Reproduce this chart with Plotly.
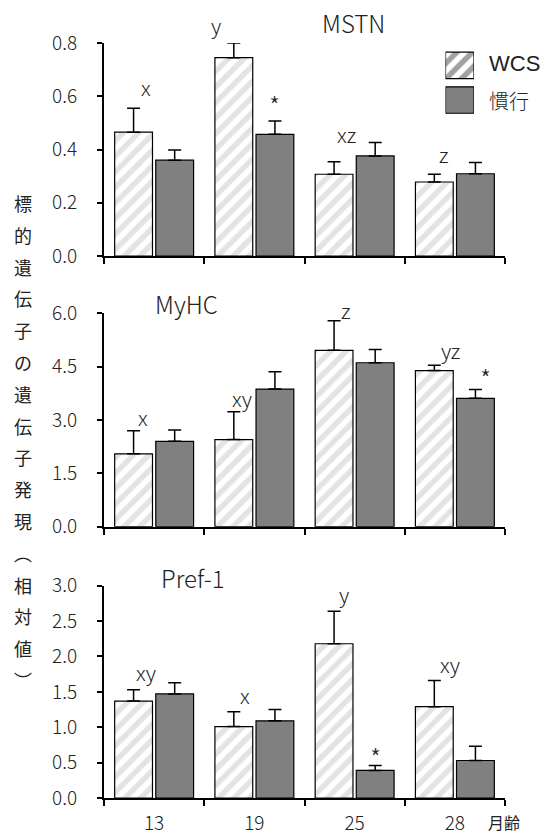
import plotly.graph_objects as go

# ---------------- data ----------------
months = ["13", "19", "25", "28"]

mstn_wcs = [0.465, 0.745, 0.307, 0.278]
mstn_wcs_err = [0.090, 0.055, 0.047, 0.029]
mstn_conv = [0.360, 0.457, 0.376, 0.309]
mstn_conv_err = [0.038, 0.050, 0.050, 0.042]

myhc_wcs = [2.05, 2.45, 4.96, 4.39]
myhc_wcs_err = [0.65, 0.78, 0.83, 0.15]
myhc_conv = [2.40, 3.87, 4.61, 3.61]
myhc_conv_err = [0.32, 0.49, 0.37, 0.25]

pref_wcs = [1.37, 1.01, 2.18, 1.29]
pref_wcs_err = [0.16, 0.21, 0.46, 0.37]
pref_conv = [1.47, 1.09, 0.39, 0.53]
pref_conv_err = [0.16, 0.16, 0.07, 0.20]

mstn_letters = ["x", "y", "xz", "z"]
mstn_star = [False, True, False, False]
myhc_letters = ["x", "xy", "z", "yz"]
myhc_star = [False, False, False, True]
pref_letters = ["xy", "x", "y", "xy"]
pref_star = [False, False, True, False]

panel_titles = ["MSTN", "MyHC", "Pref-1"]
series_names = ["WCS", "慣行"]
y_title = "標的遺伝子の遺伝子発現︵相対値︶"
x_unit = "月齢"

# ---------------- styling ----------------
W, H = 547, 836
ML, MR, MT, MB = 104, 42, 43, 38
PW = W - ML - MR
PH = H - MT - MB


def py(px):  # pixel (from top) -> paper y
    return (H - MB - px) / PH


def pxx(px):  # pixel (from left) -> paper x
    return (px - ML) / PW


FONT = "Noto Sans CJK JP, Noto Sans, sans-serif"
TXT = "#222222"
GRAY = "#808080"
STRIPE = "#c8c8c8"
LIGHT = 300
PAT = dict(size=11, solidity=0.5)

panels = [
    dict(wcs=mstn_wcs, wcs_err=mstn_wcs_err, conv=mstn_conv, conv_err=mstn_conv_err,
         letters=mstn_letters, star=mstn_star, rng=[0, 0.8], dtick=0.2,
         dom=[py(256), py(43)], title=panel_titles[0], title_xy=(353, 22),
         let_shift=[(12, 21), (-18, 18), (12, 28), (10, 20)], star_shift=(0, 16)),
    dict(wcs=myhc_wcs, wcs_err=myhc_wcs_err, conv=myhc_conv, conv_err=myhc_conv_err,
         letters=myhc_letters, star=myhc_star, rng=[0, 6.0], dtick=1.5,
         dom=[py(526.7), py(313.3)], title=panel_titles[1], title_xy=(186, 303),
         let_shift=[(9, 14), (8, 14), (12, 11), (16, 15)], star_shift=(10, 11)),
    dict(wcs=pref_wcs, wcs_err=pref_wcs_err, conv=pref_conv, conv_err=pref_conv_err,
         letters=pref_letters, star=pref_star, rng=[0, 3.0], dtick=0.5,
         dom=[0, py(585.7)], title=panel_titles[2], title_xy=(193, 577),
         let_shift=[(12, 18), (11, 17), (10, 17), (16, 17)], star_shift=(0, 8)),
]

fig = go.Figure()
annotations = []
layout_axes = {}

for k, p in enumerate(panels):
    n = "" if k == 0 else str(k + 1)
    xa, ya = "x" + n, "y" + n
    fig.add_trace(go.Bar(
        x=months, y=p["wcs"], name=series_names[0], xaxis=xa, yaxis=ya,
        showlegend=False, cliponaxis=False,
        marker=dict(color="white", line=dict(color="black", width=1.2),
                    pattern=dict(shape="/", fgcolor=STRIPE, bgcolor="white", **PAT)),
        error_y=dict(type="data", array=p["wcs_err"], arrayminus=[0] * 4,
                     symmetric=False, color="black", thickness=1.5, width=6.5),
    ))
    fig.add_trace(go.Bar(
        x=months, y=p["conv"], name=series_names[1], xaxis=xa, yaxis=ya,
        showlegend=False, cliponaxis=False,
        marker=dict(color=GRAY, line=dict(color="black", width=1.2)),
        error_y=dict(type="data", array=p["conv_err"], arrayminus=[0] * 4,
                     symmetric=False, color="black", thickness=1.5, width=6.5),
    ))
    layout_axes["xaxis" + n] = dict(
        type="category", categoryorder="array", categoryarray=months,
        range=[-0.5, 3.5], domain=[0, 1], anchor=ya, automargin=False,
        showline=True, linecolor="black", linewidth=2,
        ticks="outside", tickson="boundaries", ticklen=6, tickwidth=1.5,
        tickcolor="black", showgrid=False, zeroline=False,
        showticklabels=(k == 2), ticklabelstandoff=7,
        tickfont=dict(family=FONT, size=19, color=TXT, weight=LIGHT),
    )
    layout_axes["yaxis" + n] = dict(
        range=p["rng"], dtick=p["dtick"], tick0=0, tickformat=".1f",
        domain=p["dom"], anchor=xa, automargin=False,
        showline=True, linecolor="black", linewidth=2,
        ticks="outside", ticklen=5, tickwidth=1.5, tickcolor="black",
        showgrid=False, zeroline=False, ticklabelstandoff=16,
        tickfont=dict(family=FONT, size=19, color=TXT, weight=LIGHT),
    )
    # panel title
    tx, ty = p["title_xy"]
    annotations.append(dict(text=p["title"], xref="paper", yref="paper",
                            x=pxx(tx), y=py(ty), xanchor="center", yanchor="middle",
                            showarrow=False,
                            font=dict(family=FONT, size=24, color=TXT, weight=LIGHT)))
    # significance letters (over WCS bars) and stars (over 慣行 bars)
    for i in range(4):
        top = p["wcs"][i] + p["wcs_err"][i]
        dx, dy = p["let_shift"][i]
        annotations.append(dict(text=p["letters"][i], xref=xa, yref=ya,
                                x=i - 0.205, y=top, xshift=dx, yshift=dy,
                                xanchor="center", yanchor="middle", showarrow=False,
                                font=dict(family=FONT, size=21, color=TXT, weight=LIGHT)))
        if p["star"][i]:
            top2 = p["conv"][i] + p["conv_err"][i]
            sx, sy = p["star_shift"]
            annotations.append(dict(text="*", xref=xa, yref=ya,
                                    x=i + 0.205, y=top2, xshift=sx, yshift=sy,
                                    xanchor="center", yanchor="middle", showarrow=False,
                                    font=dict(family=FONT, size=25, color=TXT, weight=LIGHT)))

# legend drawn as two boxes on a hidden axis
fig.add_trace(go.Bar(
    y=[series_names[1], series_names[0]], x=[1, 1], orientation="h",
    xaxis="x4", yaxis="y4", width=0.76, showlegend=False, hoverinfo="skip",
    marker=dict(color=[GRAY, "white"], line=dict(color="black", width=1.2),
                pattern=dict(shape=["", "/"], fgcolor=[GRAY, STRIPE],
                             bgcolor=[GRAY, "white"], **PAT)),
))
layout_axes["xaxis4"] = dict(domain=[pxx(445.5), pxx(474)], range=[0, 1],
                             visible=False, anchor="y4", fixedrange=True)
layout_axes["yaxis4"] = dict(domain=[py(117.4), py(48)], range=[-0.5, 1.5],
                             type="category", categoryorder="array",
                             categoryarray=[series_names[1], series_names[0]],
                             visible=False, anchor="x4", fixedrange=True)
annotations.append(dict(text=series_names[0], xref="paper", yref="paper",
                        x=pxx(487), y=py(63), xanchor="left", yanchor="middle",
                        showarrow=False,
                        font=dict(family="Liberation Sans, Arial, sans-serif", size=22, color=TXT)))
annotations.append(dict(text=series_names[1], xref="paper", yref="paper",
                        x=pxx(487), y=py(101), xanchor="left", yanchor="middle",
                        showarrow=False, font=dict(family=FONT, size=20, color=TXT, weight=LIGHT)))

# vertical y-axis title, one character per line
for j, ch in enumerate(y_title):
    annotations.append(dict(text=ch, xref="paper", yref="paper",
                            x=pxx(23), y=py(203 + 31.8 * j),
                            xanchor="center", yanchor="middle", showarrow=False,
                            font=dict(family=FONT, size=18, color=TXT)))

# x unit label
annotations.append(dict(text=x_unit, xref="paper", yref="paper",
                        x=pxx(504), y=py(822), xanchor="center", yanchor="middle",
                        showarrow=False, font=dict(family=FONT, size=16, color=TXT)))

fig.update_layout(
    width=W, height=H,
    margin=dict(l=ML, r=MR, t=MT, b=MB, autoexpand=False),
    paper_bgcolor="white", plot_bgcolor="white",
    barmode="group", bargap=0.18, bargroupgap=0.08,
    showlegend=False,
    annotations=annotations,
    font=dict(family=FONT, color=TXT),
    **layout_axes,
)

fig.write_html("out.html", config={"displayModeBar": False},
               post_script="document.body.style.margin='0';document.body.style.padding='0';")
